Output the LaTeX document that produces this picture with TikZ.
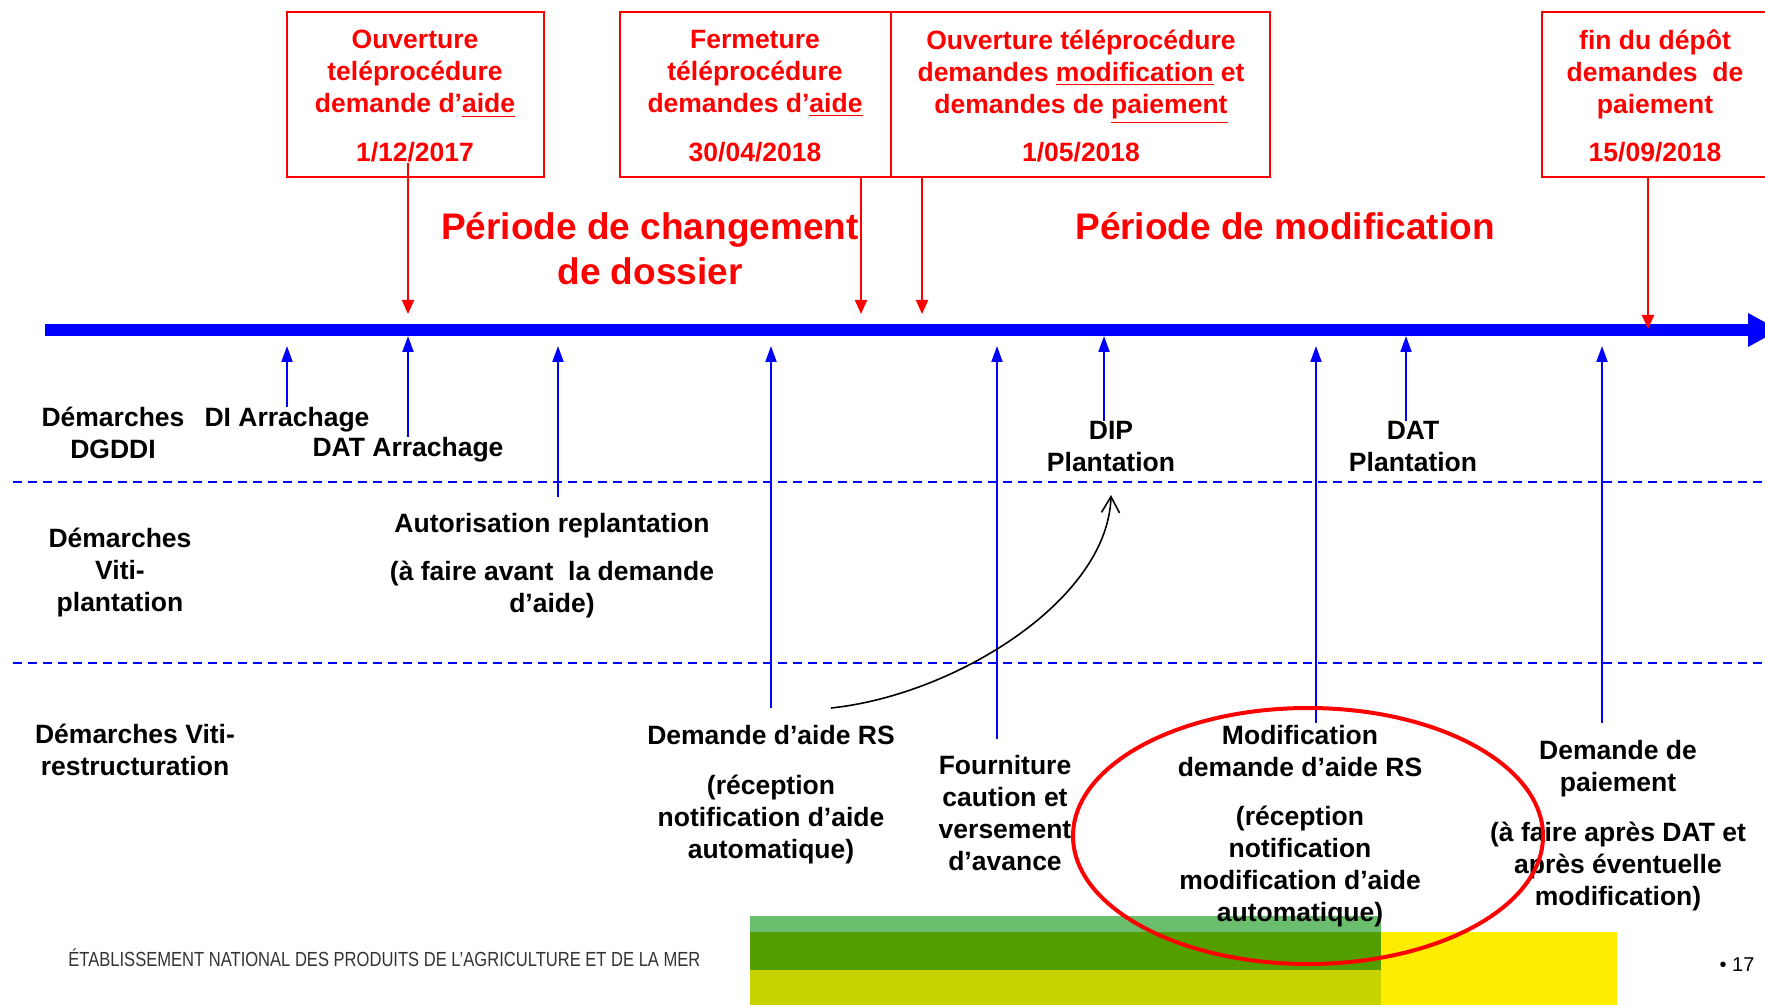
\documentclass[tikz,border=0pt]{standalone}
\usepackage{fontspec}
\setmainfont{Liberation Sans}
\usepackage{graphicx}
\usetikzlibrary{arrows.meta}
\definecolor{lgreen}{HTML}{6ABE6E}
\definecolor{dgreen}{HTML}{559E00}
\definecolor{ygreen}{HTML}{C8D200}
\definecolor{yel}{HTML}{FFED00}
\definecolor{footgray}{HTML}{333333}
\begin{document}
\begin{tikzpicture}[x=0.5pt,y=-0.5pt,
  lbl/.style={font=\bfseries\fontsize{13.25}{16}\selectfont, align=center, inner sep=0pt, anchor=north},
  rlbl/.style={lbl, text=red},
  ttl/.style={font=\bfseries\fontsize{18.5}{22.5}\selectfont, text=red, align=center, inner sep=0pt, anchor=north},
  redbox/.style={draw=red, line width=1pt, inner sep=0pt, outer sep=0pt, minimum height=82.5pt},
  redarr/.style={red, line width=1pt, -{Triangle[length=7pt,width=6pt]}},
  bluearr/.style={blue, line width=1pt, -{Triangle[length=8pt,width=5.5pt]}},
  sepline/.style={blue, line width=1pt, dash pattern=on 4.5pt off 3pt}]
\useasboundingbox (0,0) rectangle (1765,1005);

% bottom bands
\fill[lgreen] (750,916) rectangle (1381,932);
\fill[dgreen] (750,932) rectangle (1381,970);
\fill[ygreen] (750,970) rectangle (1381,1005);
\fill[yel] (1381,932) rectangle (1617,1005);

% top boxes
\node[redbox, minimum width=128.5pt] (b1) at (415.5,94.5) {};
\node[redbox, minimum width=135.5pt] (b2) at (755.5,94.5) {};
\node[redbox, minimum width=189.5pt] (b3) at (1080.5,94.5) {};
\node[redbox, minimum width=114pt] (b4) at (1656,94.5) {};

\node[rlbl] (t1) at (415,30) {Ouverture\\tel\'eproc\'edure\\demande d’\underline{aide}};
\node[rlbl] (d1) at (415,142) {1/12/2017};
\node[rlbl] (t2) at (755,30) {Fermeture\\t\'el\'eproc\'edure\\demandes d’\underline{aide}};
\node[rlbl] (d2) at (755,142) {30/04/2018};
\node[rlbl] (t3) at (1081,30) {Ouverture t\'el\'eproc\'edure\\demandes \underline{modification} et\\demandes de \underline{paiement}};
\node[rlbl] (d3) at (1081,142) {1/05/2018};
\node[rlbl] (t4) at (1655,29) {fin du d\'ep\^ot\\demandes\ \ de\\paiement};
\node[rlbl] (d4) at (1655,142) {15/09/2018};

% titles
\node[ttl] (p1) at (650,212) {P\'eriode de changement\\de dossier};
\node[ttl] (p2) at (1285,212) {P\'eriode de modification};

% separators
\draw[sepline] (13,482) -- (1765,482);
\draw[sepline] (13,663) -- (1765,663);

% timeline bar
\coordinate (bs) at (45,330);
\coordinate (be) at (1750,330);
\draw[blue, line width=6pt] (bs) -- (be);
\fill[blue] (1748,313) -- (1779,330) -- (1748,347) -- cycle;

% red arrows
\coordinate (r1) at (408,314);
\coordinate (r2) at (861,314);
\coordinate (r3) at (922,314);
\coordinate (r4) at (1648,329);
\draw[redarr] (r1 |- d1.south) -- (r1);
\draw[redarr] (r2 |- b2.south) -- (r2);
\draw[redarr] (r3 |- b3.south) -- (r3);
\draw[redarr] (r4 |- b4.south) -- (r4);

% labels
\node[lbl] (dgddi) at (113,407) {D\'emarches\\DGDDI};
\node[lbl] (di) at (287,407) {DI Arrachage};
\node[lbl] (datA) at (408,437) {DAT Arrachage};
\node[lbl] (vitip) at (120,528) {D\'emarches\\Viti-\\plantation};
\node[lbl] (aut) at (552,513) {Autorisation replantation\\[8pt](\`a faire avant\ \ la demande\\d’aide)};
\node[lbl] (vitir) at (135,724) {D\'emarches Viti-\\restructuration};
\node[lbl] (dar) at (771,725) {Demande d’aide RS\\[9pt](r\'eception\\notification d’aide\\automatique)};
\node[lbl] (four) at (1005,755) {Fourniture\\caution et\\versement\\d’avance};
\node[lbl] (dip) at (1111,421) {DIP\\Plantation};
\node[lbl] (datP) at (1413,421) {DAT\\Plantation};
\node[lbl] (mod) at (1300,725) {Modification\\demande d’aide RS\\[8.5pt](r\'eception\\notification\\modification d’aide\\automatique)};
\node[lbl] (paie) at (1618,740) {Demande de\\paiement\\[9pt](\`a faire apr\`es DAT et\\apr\`es \'eventuelle\\modification)};

% blue arrows
\coordinate (e1) at (287,346);
\coordinate (e2) at (408,336);
\coordinate (e3) at (558,346);
\coordinate (e4) at (771,346);
\coordinate (e5) at (997,346);
\coordinate (e6) at (1104,336);
\coordinate (e7) at (1316,346);
\coordinate (e8) at (1406,336);
\coordinate (e9) at (1602,346);
\draw[bluearr] (e1 |- di.north) -- (e1);
\draw[bluearr] (e2 |- datA.north) -- (e2);
\draw[bluearr, shorten <=8pt] (e3 |- aut.north) -- (e3);
\draw[bluearr, shorten <=8.5pt] (e4 |- dar.north) -- (e4);
\draw[bluearr, shorten <=8pt] (e5 |- four.north) -- (e5);
\draw[bluearr] (e6 |- dip.north) -- (e6);
\draw[bluearr, shorten <=1pt] (e7 |- mod.north) -- (e7);
\draw[bluearr] (e8 |- datP.north) -- (e8);
\draw[bluearr, shorten <=8.5pt] (e9 |- paie.north) -- (e9);

% curved arrow
\coordinate (cs) at (831,708);
\coordinate (ce) at (1111,495);
\draw[black, line width=0.8pt, -{Straight Barb[length=8pt,width=9pt]}] (cs) .. controls (955,695) and (1108,600) .. (ce);

% ellipse
\draw[red, line width=2pt] (1308,836) ellipse [x radius=117.5pt, y radius=64pt];

% footer
\node[anchor=west, inner sep=0pt, text=footgray] (foot) at (68,958) {\resizebox{316pt}{\height}{\fontsize{10.2}{12}\selectfont \'ETABLISSEMENT NATIONAL DES PRODUITS DE L’AGRICULTURE ET DE LA MER}};
\node[inner sep=0pt, font=\fontsize{10}{12}\selectfont] (pg) at (1737,965) {\textbullet\ 17};
\end{tikzpicture}
\end{document}
